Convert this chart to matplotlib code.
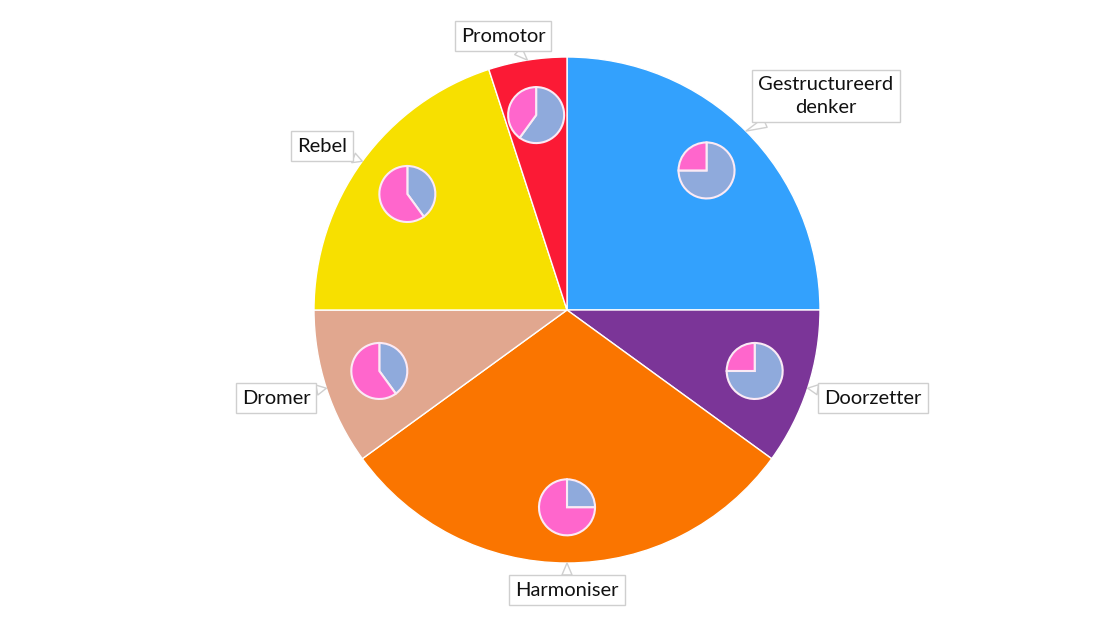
import numpy as np
import matplotlib.pyplot as plt

plt.rcParams['font.family'] = ['Lato', 'DejaVu Sans']

# main pie, clockwise from 12 o'clock
types = ['Gestructureerd\ndenker', 'Doorzetter', 'Harmoniser', 'Dromer', 'Rebel', 'Promotor']
shares = [25, 10, 30, 10, 20, 5]
colors = ['#33a1fd', '#7b3598', '#fa7500', '#e1a78f', '#f7e000', '#fb1a35']

# small pies inside each slice: (blue part, pink part)
blue_part = [75, 75, 25, 40, 40, 60]
pink_part = [25, 25, 75, 60, 60, 40]
inner_colors = ['#8faadc', '#ff66cc']

# label box centres in pixels (layout only)
label_pos = [(826, 96), (873, 398), (567, 590), (276, 398), (322, 146), (503, 36)]

W, H = 1110, 624
fig = plt.figure(figsize=(W / 100, H / 100), dpi=100)
ax = fig.add_axes([0, 0, 1, 1])

cx, cy, R = 567, H - 310, 253
wedges, _ = ax.pie(shares, colors=colors, startangle=90, counterclock=False,
                   center=(cx, cy), radius=R,
                   wedgeprops=dict(edgecolor='white', linewidth=1))

for w, b, p, name, (lx, ly) in zip(wedges, blue_part, pink_part, types, label_pos):
    mid = np.deg2rad((w.theta1 + w.theta2) / 2)
    sx = cx + 0.78 * R * np.cos(mid)
    sy = cy + 0.78 * R * np.sin(mid)
    ax.pie([b, p], colors=inner_colors, startangle=90, counterclock=False,
           center=(sx, sy), radius=28,
           wedgeprops=dict(edgecolor='#fbeaf5', linewidth=1.5))
    tip = (cx + R * np.cos(mid), cy + R * np.sin(mid))
    ax.annotate(name, xy=tip, xytext=(lx, H - ly), ha='center', va='center',
                fontsize=14.5, color='#111111', linespacing=1.45,
                bbox=dict(boxstyle='square,pad=0.3', fc='white', ec='#cfcfcf', lw=1),
                arrowprops=dict(arrowstyle='wedge,tail_width=0.5', fc='white',
                                ec='#cfcfcf', lw=1, shrinkA=0, shrinkB=0))

ax.set_xlim(0, W)
ax.set_ylim(0, H)
ax.set_aspect('equal')
ax.axis('off')

fig.savefig('out.png', dpi=100, facecolor='white')
